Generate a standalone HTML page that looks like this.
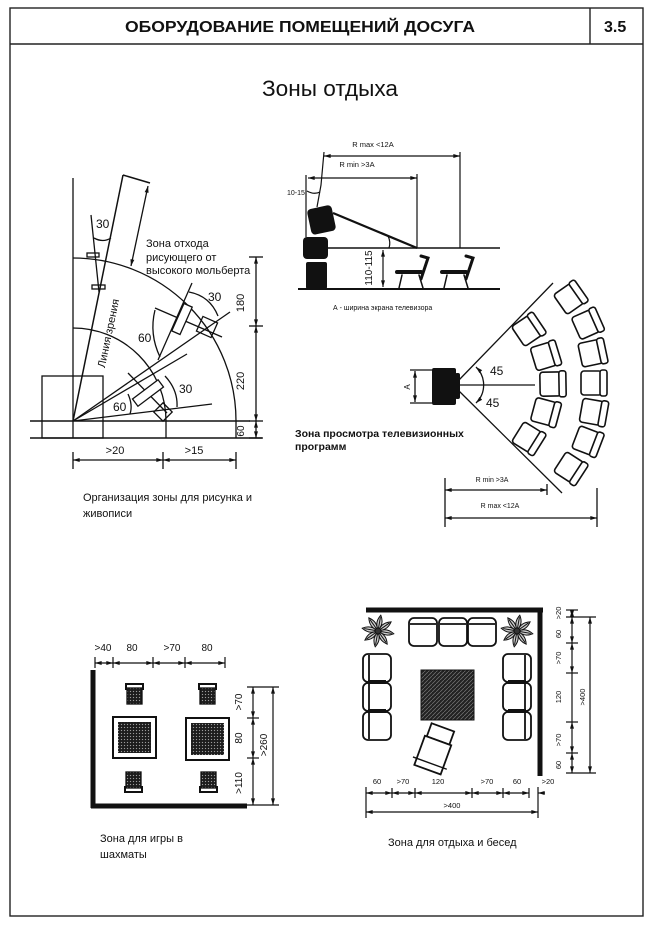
<!DOCTYPE html>
<html><head><meta charset="utf-8">
<style>
html,body{margin:0;padding:0;background:#fff;}
svg{display:block;}
text{font-family:"Liberation Sans","DejaVu Sans",sans-serif;fill:#111;stroke:none;}
</style></head><body>
<svg width="654" height="929" viewBox="0 0 654 929" xmlns="http://www.w3.org/2000/svg">
<defs>
<marker id="a" viewBox="0 0 10 6" refX="10" refY="3" markerWidth="7" markerHeight="4" markerUnits="userSpaceOnUse" orient="auto-start-reverse"><path d="M0,0 L10,3 L0,6 z" fill="#111"/></marker>
<pattern id="dots" width="3" height="3" patternUnits="userSpaceOnUse"><rect width="3" height="3" fill="#1c1c1c"/><circle cx="1.5" cy="1.5" r="0.65" fill="#9a9a9a"/></pattern>
<pattern id="hatch" width="4" height="4" patternUnits="userSpaceOnUse"><rect width="4" height="4" fill="#222"/><path d="M0,4 L4,0" stroke="#777" stroke-width="0.7"/></pattern>
<g id="ch"><rect x="-12" y="-12" width="21" height="24" rx="3"/><rect x="7" y="-13" width="7" height="26" rx="2.5"/></g>
<g id="seat"><rect x="-14" y="-14" width="28" height="28" rx="5"/><line x1="-13" y1="-8" x2="13" y2="-8"/></g>
<g id="leaf"><path d="M1,0 Q8,-5 16,0 Q8,5 1,0 Z"/><line x1="2" y1="0" x2="14" y2="0"/></g>
</defs>

<!-- Frame -->
<g stroke="#222" fill="none" stroke-width="1.4">
<rect x="10" y="8" width="633" height="908"/>
<line x1="10" y1="44" x2="643" y2="44"/>
<line x1="590" y1="8" x2="590" y2="44"/>
</g>
<text x="125" y="32" font-size="16" font-weight="bold" textLength="350" lengthAdjust="spacingAndGlyphs">ОБОРУДОВАНИЕ ПОМЕЩЕНИЙ ДОСУГА</text>
<text x="604" y="32" font-size="16" font-weight="bold">3.5</text>
<text x="262" y="96" font-size="22" textLength="136" lengthAdjust="spacingAndGlyphs">Зоны отдыха</text>

<!-- Drawing zone -->
<g stroke="#111" fill="none" stroke-width="1.3">
<line x1="73" y1="178" x2="73" y2="438"/>
<line x1="30" y1="421" x2="250" y2="421" stroke-width="1.6"/>
<line x1="30" y1="438" x2="262" y2="438" stroke-width="1.6"/>
<rect x="42" y="376" width="61" height="62"/>
<path d="M73,258 A163,163 0 0 1 236,421 L236,438"/>
<path d="M73,328 A93,93 0 0 1 166,421 L166,438"/>
<line x1="73" y1="421" x2="123" y2="175" stroke-width="1.5"/>
<line x1="123" y1="175" x2="150" y2="183" stroke-width="1.5"/>
<line x1="148" y1="186" x2="131" y2="266" marker-start="url(#a)" marker-end="url(#a)"/>
<line x1="91" y1="215" x2="99" y2="292"/>
<rect x="87" y="253" width="12" height="4"/>
<rect x="92" y="285" width="13" height="4"/>
<path d="M94,238 Q103,243 111,238"/>
<line x1="73" y1="421" x2="230" y2="312"/>
<line x1="155" y1="308" x2="222" y2="337"/>
<line x1="158" y1="360" x2="192" y2="283"/>
<rect x="-15" y="-4.5" width="30" height="9" transform="translate(182,319) rotate(-66)" fill="#fff"/>
<rect x="-8" y="-8" width="16" height="16" transform="translate(207,327) rotate(24)"/>
<path d="M189,292 Q210,296 218,316"/>
<path d="M155,310 Q149,334 160,357"/>
<line x1="73" y1="421" x2="187" y2="354"/>
<line x1="73" y1="421" x2="212" y2="404"/>
<line x1="128" y1="373" x2="167" y2="413"/>
<rect x="-16" y="-4.5" width="32" height="9" transform="translate(148,393) rotate(-37)" fill="#fff"/>
<rect x="-6.5" y="-6.5" width="13" height="13" transform="translate(163,412) rotate(45)"/>
<path d="M165,376 Q178,390 177,407"/>
<path d="M128,394 Q133,405 130,414"/>
<!-- right dims -->
<line x1="256" y1="257" x2="256" y2="326" marker-start="url(#a)" marker-end="url(#a)"/>
<line x1="256" y1="326" x2="256" y2="421" marker-start="url(#a)" marker-end="url(#a)"/>
<line x1="256" y1="421" x2="256" y2="438" marker-start="url(#a)" marker-end="url(#a)"/>
<line x1="249" y1="257" x2="263" y2="257"/>
<line x1="249" y1="326" x2="263" y2="326"/>
<line x1="249" y1="421" x2="263" y2="421"/>
<line x1="249" y1="438" x2="263" y2="438"/>
<!-- bottom dims -->
<line x1="73" y1="460" x2="163" y2="460" marker-start="url(#a)" marker-end="url(#a)"/>
<line x1="163" y1="460" x2="236" y2="460" marker-start="url(#a)" marker-end="url(#a)"/>
<line x1="73" y1="452" x2="73" y2="469"/>
<line x1="163" y1="452" x2="163" y2="469"/>
<line x1="236" y1="452" x2="236" y2="469"/>
</g>
<text x="96" y="228" font-size="12">30</text>
<text x="208" y="301" font-size="12">30</text>
<text x="138" y="342" font-size="12">60</text>
<text x="179" y="393" font-size="12">30</text>
<text x="113" y="411" font-size="12">60</text>
<text transform="translate(112,334) rotate(-78)" text-anchor="middle" font-size="11">Линия зрения</text>
<text x="146" y="247" font-size="11">Зона отхода</text>
<text x="146" y="261" font-size="11">рисующего от</text>
<text x="146" y="274" font-size="11">высокого мольберта</text>
<text transform="translate(244,303) rotate(-90)" text-anchor="middle" font-size="11">180</text>
<text transform="translate(244,381) rotate(-90)" text-anchor="middle" font-size="11">220</text>
<text transform="translate(244,431) rotate(-90)" text-anchor="middle" font-size="10">60</text>
<text x="115" y="454" font-size="11" text-anchor="middle">&gt;20</text>
<text x="194" y="454" font-size="11" text-anchor="middle">&gt;15</text>
<text x="83" y="501" font-size="11">Организация зоны для рисунка и</text>
<text x="83" y="517" font-size="11">живописи</text>

<!-- TV side view -->
<g stroke="#111" fill="none" stroke-width="1.2">
<line x1="324" y1="156" x2="460" y2="156" marker-start="url(#a)" marker-end="url(#a)"/>
<line x1="308" y1="178" x2="417" y2="178" marker-start="url(#a)" marker-end="url(#a)"/>
<path d="M324,152 L321,185 L317,207"/>
<line x1="306" y1="175" x2="306" y2="237"/>
<path d="M307,191 Q314,195 320,192"/>
<line x1="417" y1="174" x2="417" y2="248"/>
<line x1="460" y1="152" x2="460" y2="248"/>
<line x1="327" y1="248" x2="500" y2="248" stroke-width="1.5"/>
<line x1="298" y1="289" x2="500" y2="289" stroke-width="2"/>
<line x1="333" y1="213" x2="417" y2="248" stroke-width="2.2"/>
<path d="M388,236 Q391,242 389,248"/>
<line x1="383" y1="250" x2="383" y2="287" marker-start="url(#a)" marker-end="url(#a)"/>
</g>
<rect x="-12" y="-13" width="25" height="26" rx="4" fill="#111" transform="translate(321,220) rotate(-12)"/>
<rect x="303" y="237" width="25" height="22" rx="4" fill="#111"/>
<rect x="306" y="262" width="21" height="27" rx="2" fill="#111"/>
<g stroke="#111" fill="none" stroke-linecap="round">
<path d="M421,256 L428,258 L421,279" stroke-width="3"/>
<path d="M397,272 L421,272" stroke-width="4"/>
<path d="M402,275 L399,288 M419,275 L423,288" stroke-width="1.5"/>
<path d="M466,256 L473,258 L466,279" stroke-width="3"/>
<path d="M442,272 L466,272" stroke-width="4"/>
<path d="M447,275 L444,288 M464,275 L468,288" stroke-width="1.5"/>
</g>
<text x="373" y="147" font-size="7.5" text-anchor="middle">R max &lt;12A</text>
<text x="357" y="167" font-size="7.5" text-anchor="middle">R min &gt;3A</text>
<text x="287" y="195" font-size="7">10-15</text>
<text transform="translate(372,268) rotate(-90)" text-anchor="middle" font-size="10">110-115</text>
<text x="333" y="310" font-size="7">А - ширина экрана телевизора</text>

<!-- TV plan -->
<g stroke="#111" fill="none" stroke-width="1.3">
<line x1="458" y1="381" x2="553" y2="283"/>
<line x1="458" y1="390" x2="562" y2="493"/>
<line x1="458" y1="385" x2="535" y2="385"/>
<path d="M476,367 A25,25 0 0 1 476,403" marker-start="url(#a)" marker-end="url(#a)"/>
<line x1="415" y1="371" x2="415" y2="402" marker-start="url(#a)" marker-end="url(#a)"/>
<line x1="410" y1="370" x2="432" y2="370"/>
<line x1="410" y1="403" x2="432" y2="403"/>
<line x1="445" y1="490" x2="547" y2="490" marker-start="url(#a)" marker-end="url(#a)"/>
<line x1="445" y1="518" x2="597" y2="518" marker-start="url(#a)" marker-end="url(#a)"/>
<line x1="445" y1="478" x2="445" y2="527"/>
<line x1="547" y1="484" x2="547" y2="495"/>
<line x1="597" y1="488" x2="597" y2="527"/>
</g>
<rect x="432" y="368" width="24" height="37" rx="2" fill="#111"/>
<rect x="455" y="373" width="5" height="26" rx="2" fill="#111"/>
<g stroke="#111" fill="#fff" stroke-width="1.6">
<use href="#ch" transform="translate(528,330) rotate(-34)"/>
<use href="#ch" transform="translate(545,356) rotate(-17)"/>
<use href="#ch" transform="translate(552,384) rotate(-1)"/>
<use href="#ch" transform="translate(545,412) rotate(15)"/>
<use href="#ch" transform="translate(528,438) rotate(32)"/>
<use href="#ch" transform="translate(570,298) rotate(-35)"/>
<use href="#ch" transform="translate(587,324) rotate(-24)"/>
<use href="#ch" transform="translate(592,353) rotate(-12)"/>
<use href="#ch" transform="translate(593,383) rotate(0)"/>
<use href="#ch" transform="translate(593,412) rotate(10)"/>
<use href="#ch" transform="translate(587,441) rotate(21)"/>
<use href="#ch" transform="translate(570,468) rotate(33)"/>
</g>
<text x="490" y="375" font-size="12">45</text>
<text x="486" y="407" font-size="12">45</text>
<text transform="translate(410,387) rotate(-90)" text-anchor="middle" font-size="8">А</text>
<text x="492" y="482" font-size="7" text-anchor="middle">R min &gt;3A</text>
<text x="500" y="508" font-size="7" text-anchor="middle">R max &lt;12A</text>
<text x="295" y="437" font-size="10.5" font-weight="bold">Зона просмотра телевизионных</text>
<text x="295" y="450" font-size="10.5" font-weight="bold">программ</text>

<!-- Chess zone -->
<g stroke="#111" fill="none" stroke-width="1.2">
<line x1="95" y1="663" x2="113" y2="663" marker-start="url(#a)" marker-end="url(#a)"/>
<line x1="113" y1="663" x2="153" y2="663" marker-start="url(#a)" marker-end="url(#a)"/>
<line x1="153" y1="663" x2="185" y2="663" marker-start="url(#a)" marker-end="url(#a)"/>
<line x1="185" y1="663" x2="225" y2="663" marker-start="url(#a)" marker-end="url(#a)"/>
<line x1="95" y1="657" x2="95" y2="668"/>
<line x1="113" y1="657" x2="113" y2="668"/>
<line x1="153" y1="657" x2="153" y2="668"/>
<line x1="185" y1="657" x2="185" y2="668"/>
<line x1="225" y1="657" x2="225" y2="668"/>
<line x1="93" y1="670" x2="93" y2="808" stroke-width="5"/>
<line x1="91" y1="806" x2="247" y2="806" stroke-width="5"/>
<line x1="253" y1="687" x2="253" y2="718" marker-start="url(#a)" marker-end="url(#a)"/>
<line x1="253" y1="718" x2="253" y2="758" marker-start="url(#a)" marker-end="url(#a)"/>
<line x1="253" y1="758" x2="253" y2="805" marker-start="url(#a)" marker-end="url(#a)"/>
<line x1="273" y1="687" x2="273" y2="805" marker-start="url(#a)" marker-end="url(#a)"/>
<line x1="247" y1="687" x2="279" y2="687"/>
<line x1="247" y1="718" x2="259" y2="718"/>
<line x1="247" y1="758" x2="259" y2="758"/>
<line x1="247" y1="805" x2="279" y2="805"/>
<rect x="113" y="717" width="43" height="41" stroke-width="2"/>
<rect x="186" y="718" width="43" height="42" stroke-width="2"/>
<path d="M125,684 L144,684 M126,684 L126,690 M143,684 L143,690" stroke-width="2"/>
<path d="M198,684 L217,684 M199,684 L199,690 M216,684 L216,690" stroke-width="2"/>
<path d="M124,792 L143,792 M125,786 L125,792 M142,786 L142,792" stroke-width="2"/>
<path d="M199,792 L218,792 M200,786 L200,792 M217,786 L217,792" stroke-width="2"/>
</g>
<rect x="118" y="722" width="33" height="31" fill="url(#dots)"/>
<rect x="191" y="723" width="33" height="32" fill="url(#dots)"/>
<rect x="127" y="688" width="15" height="16" fill="url(#dots)" stroke="#111" stroke-width="1.3"/>
<rect x="200" y="688" width="15" height="16" fill="url(#dots)" stroke="#111" stroke-width="1.3"/>
<rect x="126" y="772" width="15" height="16" fill="url(#dots)" stroke="#111" stroke-width="1.3"/>
<rect x="201" y="772" width="15" height="16" fill="url(#dots)" stroke="#111" stroke-width="1.3"/>
<text x="103" y="651" font-size="10" text-anchor="middle">&gt;40</text>
<text x="132" y="651" font-size="10" text-anchor="middle">80</text>
<text x="172" y="651" font-size="10" text-anchor="middle">&gt;70</text>
<text x="207" y="651" font-size="10" text-anchor="middle">80</text>
<text transform="translate(242,702) rotate(-90)" text-anchor="middle" font-size="10">&gt;70</text>
<text transform="translate(242,738) rotate(-90)" text-anchor="middle" font-size="10">80</text>
<text transform="translate(242,783) rotate(-90)" text-anchor="middle" font-size="10">&gt;110</text>
<text transform="translate(267,745) rotate(-90)" text-anchor="middle" font-size="10">&gt;260</text>
<text x="100" y="842" font-size="11">Зона для игры в</text>
<text x="100" y="858" font-size="11">шахматы</text>

<!-- Rest zone -->
<g stroke="#111" fill="none" stroke-width="1.2">
<line x1="366" y1="610" x2="543" y2="610" stroke-width="5"/>
<line x1="540" y1="608" x2="540" y2="776" stroke-width="5"/>
<line x1="572" y1="610" x2="572" y2="617" marker-start="url(#a)" marker-end="url(#a)"/>
<line x1="572" y1="617" x2="572" y2="643" marker-start="url(#a)" marker-end="url(#a)"/>
<line x1="572" y1="643" x2="572" y2="673" marker-start="url(#a)" marker-end="url(#a)"/>
<line x1="572" y1="673" x2="572" y2="722"/>
<line x1="572" y1="722" x2="572" y2="753" marker-start="url(#a)" marker-end="url(#a)"/>
<line x1="572" y1="753" x2="572" y2="773" marker-start="url(#a)" marker-end="url(#a)"/>
<line x1="590" y1="617" x2="590" y2="773" marker-start="url(#a)" marker-end="url(#a)"/>
<line x1="566" y1="610" x2="578" y2="610"/>
<line x1="566" y1="617" x2="596" y2="617"/>
<line x1="566" y1="643" x2="578" y2="643"/>
<line x1="566" y1="673" x2="578" y2="673"/>
<line x1="566" y1="722" x2="578" y2="722"/>
<line x1="566" y1="753" x2="578" y2="753"/>
<line x1="566" y1="773" x2="596" y2="773"/>
<line x1="366" y1="793" x2="392" y2="793" marker-start="url(#a)" marker-end="url(#a)"/>
<line x1="392" y1="793" x2="415" y2="793" marker-start="url(#a)" marker-end="url(#a)"/>
<line x1="415" y1="793" x2="472" y2="793" marker-start="url(#a)" marker-end="url(#a)"/>
<line x1="472" y1="793" x2="503" y2="793" marker-start="url(#a)" marker-end="url(#a)"/>
<line x1="503" y1="793" x2="529" y2="793" marker-start="url(#a)" marker-end="url(#a)"/>
<line x1="538" y1="793" x2="545" y2="793" marker-start="url(#a)"/>
<line x1="366" y1="812" x2="538" y2="812" marker-start="url(#a)" marker-end="url(#a)"/>
<line x1="366" y1="787" x2="366" y2="818"/>
<line x1="392" y1="788" x2="392" y2="798"/>
<line x1="415" y1="788" x2="415" y2="798"/>
<line x1="472" y1="788" x2="472" y2="798"/>
<line x1="503" y1="788" x2="503" y2="798"/>
<line x1="529" y1="788" x2="529" y2="798"/>
<line x1="538" y1="787" x2="538" y2="818"/>
</g>
<g stroke="#111" fill="#fff" stroke-width="1.8">
<use href="#seat" transform="translate(423,632)"/>
<use href="#seat" transform="translate(453,632)"/>
<use href="#seat" transform="translate(482,632)"/>
<use href="#seat" transform="translate(377,668) rotate(-90)"/>
<use href="#seat" transform="translate(377,697) rotate(-90)"/>
<use href="#seat" transform="translate(377,726) rotate(-90)"/>
<use href="#seat" transform="translate(517,668) rotate(90)"/>
<use href="#seat" transform="translate(517,697) rotate(90)"/>
<use href="#seat" transform="translate(517,726) rotate(90)"/>
<g transform="translate(435,749) rotate(20)">
<rect x="-12" y="-23" width="24" height="14"/>
<rect x="-14" y="-9" width="28" height="31"/>
<line x1="-18" y1="15" x2="18" y2="15" stroke-width="1.4"/>
</g>
</g>
<rect x="368" y="680" width="18" height="4" fill="#111"/>
<rect x="368" y="709" width="18" height="4" fill="#111"/>
<rect x="508" y="680" width="18" height="4" fill="#111"/>
<rect x="508" y="709" width="18" height="4" fill="#111"/>
<rect x="421" y="670" width="53" height="50" fill="url(#hatch)" stroke="#111" stroke-width="1"/>
<g stroke="#111" fill="#ccc" stroke-width="1">
<g transform="translate(378,631)">
<use href="#leaf" transform="rotate(10)"/><use href="#leaf" transform="rotate(55)"/><use href="#leaf" transform="rotate(100)"/><use href="#leaf" transform="rotate(145)"/><use href="#leaf" transform="rotate(190)"/><use href="#leaf" transform="rotate(235)"/><use href="#leaf" transform="rotate(280)"/><use href="#leaf" transform="rotate(325)"/>
<circle r="3" fill="#333"/>
</g>
<g transform="translate(517,631)">
<use href="#leaf" transform="rotate(10)"/><use href="#leaf" transform="rotate(55)"/><use href="#leaf" transform="rotate(100)"/><use href="#leaf" transform="rotate(145)"/><use href="#leaf" transform="rotate(190)"/><use href="#leaf" transform="rotate(235)"/><use href="#leaf" transform="rotate(280)"/><use href="#leaf" transform="rotate(325)"/>
<circle r="3" fill="#333"/>
</g>
</g>
<text transform="translate(561,613) rotate(-90)" text-anchor="middle" font-size="7.5">&gt;20</text>
<text transform="translate(561,634) rotate(-90)" text-anchor="middle" font-size="7.5">60</text>
<text transform="translate(561,658) rotate(-90)" text-anchor="middle" font-size="7.5">&gt;70</text>
<text transform="translate(561,697) rotate(-90)" text-anchor="middle" font-size="7.5">120</text>
<text transform="translate(561,740) rotate(-90)" text-anchor="middle" font-size="7.5">&gt;70</text>
<text transform="translate(561,765) rotate(-90)" text-anchor="middle" font-size="7.5">60</text>
<text transform="translate(585,697) rotate(-90)" text-anchor="middle" font-size="7.5">&gt;400</text>
<text x="377" y="784" font-size="7.5" text-anchor="middle">60</text>
<text x="403" y="784" font-size="7.5" text-anchor="middle">&gt;70</text>
<text x="438" y="784" font-size="7.5" text-anchor="middle">120</text>
<text x="487" y="784" font-size="7.5" text-anchor="middle">&gt;70</text>
<text x="517" y="784" font-size="7.5" text-anchor="middle">60</text>
<text x="548" y="784" font-size="7.5" text-anchor="middle">&gt;20</text>
<text x="452" y="808" font-size="7.5" text-anchor="middle">&gt;400</text>
<text x="388" y="846" font-size="11">Зона для отдыха и бесед</text>
</svg>
</body></html>
